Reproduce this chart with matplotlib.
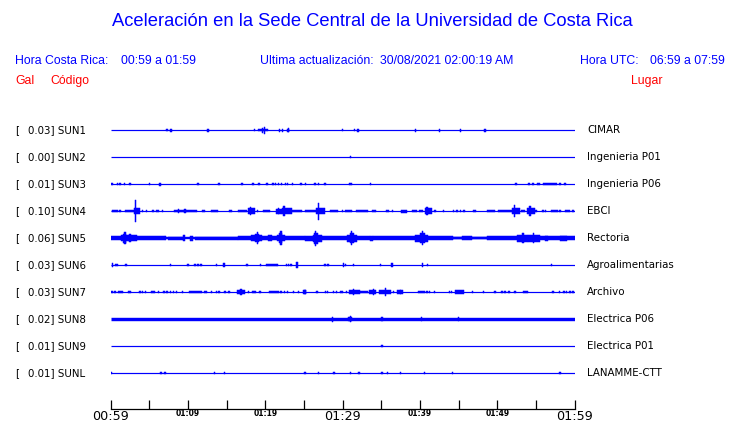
import matplotlib.pyplot as plt
from matplotlib.transforms import blended_transform_factory

# ============================
# DATA
# ============================
codes = ["SUN1", "SUN2", "SUN3", "SUN4", "SUN5", "SUN6", "SUN7", "SUN8", "SUN9", "SUNL"]
places = ["CIMAR", "Ingenieria P01", "Ingenieria P06", "EBCI", "Rectoria",
          "Agroalimentarias", "Archivo", "Electrica P06", "Electrica P01", "LANAMME-CTT"]
gal = ["0.03", "0.00", "0.01", "0.10", "0.06", "0.03", "0.03", "0.02", "0.01", "0.01"]

tick_minutes = [0, 10, 20, 30, 40, 50, 60]
tick_labels = ["00:59", "01:09", "01:19", "01:29", "01:39", "01:49", "01:59"]
big_labels = ["00:59", "01:29", "01:59"]

# baseline thickness of each trace (px)
base_px = [1.2, 1.2, 1.2, 1.2, 2.4, 1.2, 1.2, 3.4, 1.2, 1.2]

# bursts per trace: (start minute, end minute, half amplitude in px)
sun1 = [(7.3, 7.3, 1), (7.7, 7.8, 1.5), (12.6, 12.6, 1.5), (18.6, 18.6, 1), (19.0, 20.3, 1.3),
        (19.6, 19.6, 2.5), (19.9, 19.9, 3.5), (21.8, 21.8, 1.5), (22.2, 22.2, 1.5),
        (22.8, 23.1, 1.5), (23.0, 23.0, 2), (29.95, 29.95, 1), (31.5, 31.5, 1), (32.0, 32.0, 1.5),
        (39.4, 39.4, 1.5), (42.5, 42.5, 1.5), (45.2, 45.2, 1.5), (48.4, 48.4, 1.5)]
sun2 = [(31.0, 31.0, 1.2)]
sun3 = [(0.0, 0.3, 1.3), (0.9, 0.9, 1), (1.2, 1.2, 1), (1.76, 1.76, 1), (2.5, 2.5, 1), (5.0, 5.0, 1),
        (6.3, 6.4, 1.5), (11.3, 11.3, 0.8), (14.0, 14.0, 0.8), (17.0, 17.0, 0.8), (18.4, 18.4, 1),
        (19.2, 19.2, 1), (20.1, 20.4, 1.2), (21.0, 21.0, 1), (21.3, 21.3, 1), (21.7, 21.7, 1),
        (22.1, 22.1, 1), (22.6, 22.6, 1), (22.9, 22.9, 1), (23.5, 23.5, 1), (24.5, 24.7, 1.2),
        (25.2, 25.2, 1), (26.3, 26.5, 1), (26.9, 26.9, 1), (27.7, 27.7, 1), (30.8, 31.2, 1.3),
        (33.6, 33.6, 1), (52.4, 52.4, 1), (54.1, 54.1, 1), (54.6, 54.6, 1.2), (55.1, 55.5, 1),
        (55.9, 57.7, 1.3), (58.1, 58.1, 1), (58.75, 58.75, 1)]
sun4 = [(0.2, 0.9, 1), (1.07, 1.33, 1), (1.85, 3.05, 1.3), (3.05, 3.75, 3), (3.18, 3.18, 11),
        (4.09, 4.09, 1), (4.65, 4.65, 1), (5.3, 5.6, 1), (5.86, 6.28, 1), (6.67, 6.67, 1),
        (8.19, 11.12, 1.3), (8.74, 8.74, 2.3), (9.6, 9.6, 2), (11.77, 12.2, 1.3), (12.97, 13.91, 1.3),
        (15.3, 15.65, 1.3), (16.42, 17.59, 1.3), (17.72, 18.66, 3.3), (18.1, 18.1, 4.3),
        (18.96, 18.96, 1), (19.7, 20.6, 1.3), (21.4, 22.1, 2.5), (21.7, 21.7, 3), (22.1, 23.4, 3.3),
        (22.4, 22.4, 4.7), (23.4, 24.7, 1.3), (25.1, 26.5, 1.3), (26.5, 27.7, 3.3), (26.9, 26.9, 8.5),
        (28.4, 29.4, 1.3), (29.9, 30.1, 1.2), (30.3, 31.16, 1.2), (31.72, 33.3, 1.3), (33.8, 34.3, 1.2),
        (35.6, 36.0, 1.2), (36.46, 36.46, 1), (37.6, 38.3, 1.5), (38.9, 39.6, 1.2), (39.9, 40.4, 1.2),
        (40.6, 41.5, 3), (40.9, 40.9, 4.3), (41.94, 41.94, 1), (43.0, 43.0, 1), (44.3, 44.3, 1),
        (44.8, 44.8, 1), (45.2, 45.2, 1), (45.7, 45.7, 1), (46.9, 47.3, 1.2), (48.7, 49.7, 1.3),
        (50.1, 51.85, 1.3), (51.85, 52.9, 3.3), (52.2, 52.2, 5.7), (53.1, 53.6, 1.2), (53.8, 54.9, 3.3),
        (54.2, 54.2, 5.3), (55.0, 55.0, 1), (55.9, 55.9, 1), (56.2, 56.2, 1), (56.9, 57.9, 1.3),
        (58.1, 58.1, 1), (58.75, 59.4, 1.2), (59.8, 59.8, 1)]
sun5 = [(0, 1.33, 2), (1.33, 2.3, 3.3), (1.6, 2.0, 4.5), (1.85, 1.85, 5.7), (2.3, 3.4, 3.3),
        (2.5, 2.5, 4.3), (3.4, 7.0, 1.7), (7.1, 7.1, 2), (7.45, 9.4, 1.5), (9.5, 9.5, 3),
        (10.25, 10.7, 2.5), (10.9, 16.5, 1.5), (16.5, 18.2, 2), (18.2, 19.5, 3.3), (18.7, 19.2, 4.3),
        (18.96, 18.96, 5.7), (19.5, 20.4, 1.7), (20.4, 20.8, 3), (20.8, 21.5, 1.7), (21.5, 22.5, 3.3),
        (21.8, 22.2, 5), (22.0, 22.0, 7), (22.5, 25.1, 1.7), (25.1, 26.2, 2.5), (26.2, 27.3, 3.5),
        (26.3, 26.8, 5.5), (26.5, 26.5, 7.5), (27.3, 30.5, 1.7), (30.5, 31.8, 3.5), (30.9, 31.4, 5),
        (31.16, 31.16, 7), (31.8, 33.5, 1.7), (33.5, 33.96, 2.5), (33.96, 39.35, 1.8),
        (39.35, 41.07, 3.5), (40.0, 40.6, 5), (40.3, 40.3, 7), (41.07, 44.3, 1.7), (44.3, 48.6, 1.2),
        (45.4, 46.7, 1.9), (48.6, 52.5, 1.7), (52.5, 54.0, 3.5), (53.3, 53.3, 5), (54.0, 55.5, 3.5),
        (54.65, 54.65, 4.7), (55.5, 60, 1.9), (56.2, 56.6, 2.5), (58.1, 59.0, 2.5)]
sun6 = [(0.2, 0.2, 2.3), (0.56, 0.9, 1.3), (2.0, 2.0, 1), (7.76, 7.76, 1), (10.0, 10.0, 1),
        (10.8, 11.0, 1.3), (11.3, 11.3, 1), (11.7, 11.7, 1), (13.6, 13.8, 1.3), (14.56, 14.8, 2.3),
        (17.6, 17.6, 0.8), (19.4, 19.4, 1.3), (20.1, 21.5, 1.3), (21.6, 21.6, 1), (22.7, 22.7, 1),
        (22.96, 22.96, 1), (23.2, 23.5, 1.3), (24.1, 24.1, 3.3), (27.7, 27.7, 1.3), (28.1, 28.1, 1.3),
        (30.1, 30.1, 2.3), (30.4, 30.4, 0.7), (31.4, 31.4, 0.7), (34.9, 34.9, 1.3), (36.3, 36.5, 2.3),
        (40.3, 40.3, 2.3), (41.0, 41.0, 1.3), (57.0, 57.0, 1.3)]
sun7 = [(0.0, 0.34, 1.3), (0.56, 0.56, 1), (1.0, 1.63, 1.3), (2.28, 2.28, 1), (2.5, 2.5, 1),
        (3.8, 3.8, 1), (4.1, 4.1, 1), (4.5, 4.5, 1), (5.2, 5.7, 1.3), (6.2, 6.2, 1), (6.9, 6.9, 1),
        (7.3, 7.3, 1), (7.7, 7.7, 1), (8.1, 8.1, 1), (8.5, 8.5, 1), (9.3, 9.3, 1), (10.1, 11.8, 1.3),
        (12.0, 12.4, 1.3), (13.06, 13.06, 1), (13.7, 13.7, 1), (14.0, 14.0, 1), (14.8, 14.8, 1),
        (15.3, 15.3, 1), (16.3, 17.4, 1.7), (16.85, 16.85, 2.7), (17.8, 17.8, 1), (18.4, 18.4, 1),
        (18.66, 18.66, 1), (19.3, 19.3, 1), (20.5, 21.8, 1.3), (22.0, 22.0, 1), (22.45, 22.45, 1),
        (22.9, 22.9, 1), (23.6, 23.6, 1), (24.3, 24.3, 1), (24.9, 25.3, 1.7), (25.1, 25.1, 2.3),
        (26.7, 26.7, 1), (27.8, 27.8, 1), (28.06, 28.06, 1), (28.8, 28.8, 1), (29.2, 29.2, 1),
        (29.65, 30.08, 1.3), (30.5, 30.5, 1), (30.85, 32.2, 2), (31.4, 31.4, 3), (32.3, 33.3, 1.3),
        (33.4, 34.3, 2), (33.96, 33.96, 2.7), (34.7, 36.3, 2), (35.5, 35.5, 4), (36.55, 36.55, 1),
        (37.06, 37.8, 1.7), (37.5, 37.5, 2.3), (39.8, 40.6, 1.3), (40.9, 40.9, 1), (41.2, 41.2, 1),
        (41.9, 41.9, 1), (43.8, 43.8, 1), (44.1, 44.1, 1), (44.5, 45.7, 1.7), (46.8, 46.8, 1),
        (48.2, 48.2, 1), (49.7, 49.7, 1), (50.6, 50.6, 1), (51.0, 51.0, 1), (51.5, 51.5, 1),
        (52.3, 52.3, 1), (53.3, 54.0, 1.3), (57.2, 57.2, 1), (58.0, 58.0, 1), (58.6, 58.6, 1),
        (58.97, 58.97, 1), (59.4, 59.4, 1), (59.8, 59.8, 1)]
sun8 = [(28.66, 28.66, 2.5), (30.7, 31.2, 2.3), (31.0, 31.0, 3), (35.1, 35.1, 2.3),
        (40.2, 40.2, 2.3), (45.0, 45.0, 2)]
sun9 = [(35.1, 35.1, 1.3)]
sunl = [(0.04, 0.04, 1), (6.5, 6.5, 1), (7.0, 7.0, 1), (13.4, 13.4, 1.3), (14.7, 14.7, 1),
        (25.1, 25.1, 1.3), (26.85, 26.85, 1), (28.9, 28.9, 1), (31.0, 31.0, 1), (32.0, 32.2, 1.3),
        (35.1, 35.1, 1.3), (35.8, 35.8, 1.3), (37.45, 37.45, 1.3), (40.6, 40.6, 1.3),
        (44.2, 44.2, 1.3), (58.1, 58.1, 1)]

events = [sun1, sun2, sun3, sun4, sun5, sun6, sun7, sun8, sun9, sunl]

# ============================
# FIGURE
# ============================
W, H = 740, 423
BLUE = "#0000ff"
RED = "#ff0000"
fig = plt.figure(figsize=(W / 100, H / 100), dpi=100)
fig.patch.set_facecolor("white")


def fx(x):
    return x / W


def fy(y):
    return 1 - y / H


ax = fig.add_axes([fx(110.7), fy(409), 464 / W, (409 - 116) / H])
ax.set_xlim(0, 60)
ax.set_ylim(10.33, -0.52)
PX = 27.0  # pixels per trace step
MIN_W = 0.18  # narrowest spike, in minutes

for i, ev in enumerate(events):
    ax.plot([0, 60], [i, i], color=BLUE, lw=base_px[i] * 0.72, solid_capstyle="butt")
    for t0, t1, a in ev:
        w = max(t1 - t0, MIN_W)
        left = t0 if t1 > t0 else t0 - w / 2
        ax.bar(left, 2 * a / PX, width=w, bottom=i - a / PX, align="edge",
               color=BLUE, edgecolor=BLUE, linewidth=0.35)

# axis: only bottom line with upward ticks
for s in ["top", "left", "right"]:
    ax.spines[s].set_visible(False)
ax.spines["bottom"].set_linewidth(0.9)
ax.set_yticks([])
ax.set_xticks(tick_minutes)
ax.set_xticks([5, 15, 25, 35, 45, 55], minor=True)
ax.tick_params(axis="x", which="both", direction="in", length=6.5, width=0.9, pad=1)
ax.set_xticklabels(tick_labels)
for lab in ax.get_xticklabels():
    if lab.get_text() in big_labels:
        lab.set_fontsize(9.2)
    else:
        lab.set_fontsize(5.5)
        lab.set_fontweight("bold")
        lab.set_y(lab.get_position()[1] + 0.004)

# labels on both sides of each trace
tr = blended_transform_factory(fig.transFigure, ax.transData)
for i in range(len(codes)):
    ax.text(fx(15), i, "[", transform=tr, fontsize=7.4, va="center", ha="left")
    ax.text(fx(27.5), i, f"{gal[i]}] {codes[i]}", transform=tr, fontsize=7.4,
            va="center", ha="left")
    ax.text(fx(587), i, places[i], transform=tr, fontsize=7.4, va="center", ha="left")

# header texts
hdr = dict(family="Liberation Sans", fontsize=8.8, va="center")
fig.text(fx(372), fy(22), "Aceleración en la Sede Central de la Universidad de Costa Rica",
         family="Liberation Sans", fontsize=13.2, color=BLUE, ha="center", va="center")
fig.text(fx(15), fy(61), "Hora Costa Rica:", color=BLUE, ha="left", **hdr)
fig.text(fx(121), fy(61), "00:59 a 01:59", color=BLUE, ha="left", **hdr)
fig.text(fx(260), fy(61), "Ultima actualización:", color=BLUE, ha="left", **hdr)
fig.text(fx(380), fy(61), "30/08/2021 02:00:19 AM", color=BLUE, ha="left", **hdr)
fig.text(fx(580), fy(61), "Hora UTC:", color=BLUE, ha="left", **hdr)
fig.text(fx(725), fy(61), "06:59 a 07:59", color=BLUE, ha="right", **hdr)
fig.text(fx(15), fy(81), "Gal", color=RED, ha="left", **hdr)
fig.text(fx(50), fy(81), "Código", color=RED, ha="left", **hdr)
fig.text(fx(662), fy(81), "Lugar", color=RED, ha="right", **hdr)

fig.savefig("out.png", dpi=100, facecolor="white")
